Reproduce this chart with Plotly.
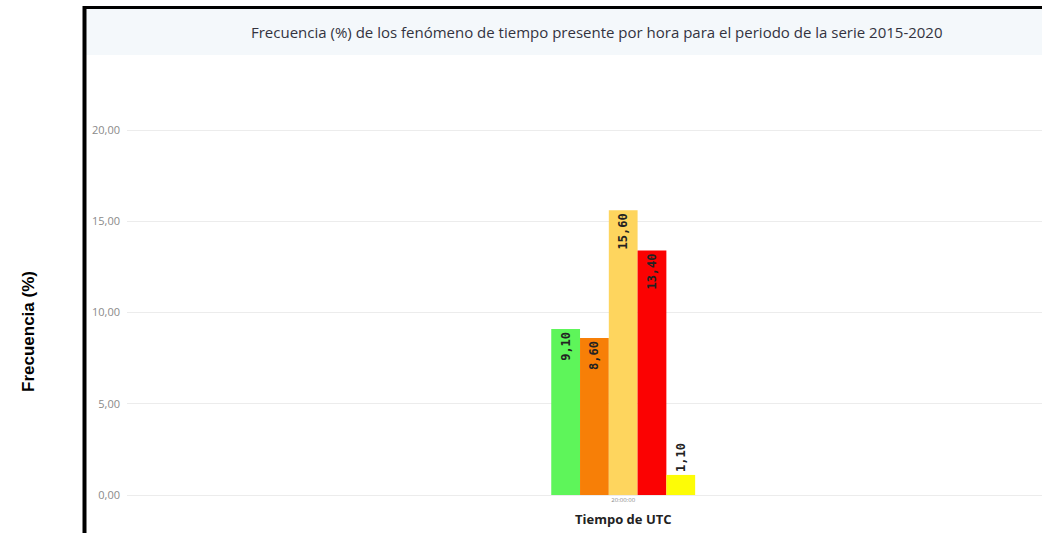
import plotly.graph_objects as go

# data
hours = ["20:00:00"]
series_names = ["Fenómeno 1", "Fenómeno 2", "Fenómeno 3", "Fenómeno 4", "Fenómeno 5"]
series_values = [9.10, 8.60, 15.60, 13.40, 1.10]
series_colors = ["#5ef55a", "#f77f07", "#fed55e", "#fb0202", "#fdfc06"]
y_ticks = [0, 5, 10, 15, 20]

fig = go.Figure()
for name, val, col in zip(series_names, series_values, series_colors):
    fig.add_trace(go.Bar(
        x=hours, y=[val], name=name,
        marker=dict(color=col, line=dict(width=0)),
        text=[f"{val:.2f}".replace(".", ",")],
        textposition="inside" if val > 3 else "outside",
        insidetextanchor="end",
        textangle=-90,
        constraintext="none",
        textfont=dict(family="DejaVu Sans Mono", size=12, color="#222222", weight="bold"),
        cliponaxis=False,
    ))

W, H = 1042, 533
L, R, T, B = 127, 0, 60, 38
pw = W - L - R
ph = H - T - B

def px(x):
    return (x - L) / pw

def py(y):
    return (H - B - y) / ph

shapes = [
    # title band
    dict(type="rect", xref="paper", yref="paper", x0=px(86), x1=px(1042), y0=py(55), y1=py(9),
         fillcolor="#f4f8fb", line=dict(width=0), layer="below"),
    # black frame
    dict(type="line", xref="paper", yref="paper", x0=px(84.5), x1=px(84.5), y0=py(533), y1=py(6),
         line=dict(color="black", width=4)),
    dict(type="line", xref="paper", yref="paper", x0=px(83), x1=px(1042), y0=py(7.5), y1=py(7.5),
         line=dict(color="black", width=3)),
]

annotations = [
    dict(text="Frecuencia (%) de los fenómeno de tiempo presente por hora para el periodo de la serie 2015-2020",
         xref="paper", yref="paper", x=px(597), y=py(32), xanchor="center", yanchor="middle",
         showarrow=False, font=dict(family="Open Sans", size=15, color="#33333f")),
    dict(text="<b>Frecuencia (%)</b>", xref="paper", yref="paper", x=px(28), y=py(332),
         xanchor="center", yanchor="middle", showarrow=False, textangle=-90,
         font=dict(family="Liberation Sans", size=17, color="black")),
    dict(text="<b>Tiempo de UTC</b>", xref="paper", yref="paper", x=px(623), y=py(519),
         xanchor="center", yanchor="middle", showarrow=False,
         font=dict(family="Open Sans", size=13, color="#222222")),
]

fig.update_layout(
    width=W, height=H,
    margin=dict(l=L, r=R, t=T, b=B),
    paper_bgcolor="white", plot_bgcolor="rgba(0,0,0,0)",
    barmode="group", bargap=0.855, bargroupgap=0,
    showlegend=False,
    separators=",.",
    shapes=shapes, annotations=annotations,
    xaxis=dict(
        type="category", range=[-0.5, 0.422],
        showgrid=False, zeroline=False, showline=False,
        tickfont=dict(family="Open Sans", size=6, color="#888888"),
    ),
    yaxis=dict(
        range=[0, (495 - 60) / 18.25],
        tickvals=y_ticks, tickformat=".2f",
        showgrid=True, gridcolor="#ececec", gridwidth=1,
        zeroline=True, zerolinecolor="#ececec", zerolinewidth=1,
        showline=False, ticks="", ticklabelstandoff=6,
        tickfont=dict(family="Open Sans", size=11, color="#8a8a8a"),
    ),
)

fig.write_html("out.html", config={"displayModeBar": False},
               post_script="document.body.style.margin='0';document.body.style.overflow='hidden';")
